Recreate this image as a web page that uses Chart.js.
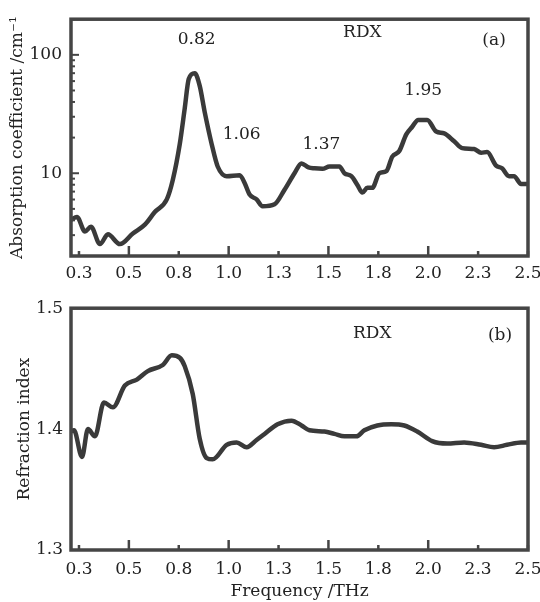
<!DOCTYPE html>
<html>
<head>
<meta charset="utf-8">
<script src="https://cdn.jsdelivr.net/npm/chart.js@4.4.0/dist/chart.umd.min.js"></script>
<style>
  body { margin: 0; background: #fff; }
  .box { position: absolute; left: 0; width: 540px; }
  #top { top: 0; height: 290px; }
  #bottom { top: 290px; height: 312px; }
</style>
</head>
<body>
<div class="box" id="top"><canvas id="absChart" width="540" height="290"></canvas></div>
<div class="box" id="bottom"><canvas id="refChart" width="540" height="312"></canvas></div>
<script>
// frequency axis (THz), shared by both panels
const xTickValues = [0.25, 0.5, 0.75, 1.0, 1.25, 1.5, 1.75, 2.0, 2.25, 2.5];
const xTickLabels = ["0.3", "0.5", "0.8", "1.0", "1.3", "1.5", "1.8", "2.0", "2.3", "2.5"];
const xMajorTicks = [0.5, 1.0, 1.5, 2.0];

// (a) absorption coefficient, cm^-1 (log axis)
const absFreq = [0.21, 0.24, 0.28, 0.31, 0.355, 0.395, 0.455, 0.52, 0.58, 0.63, 0.69, 0.72, 0.755, 0.78, 0.80,
  0.83, 0.855, 0.88, 0.915, 0.945, 0.99,
  1.055, 1.08, 1.105, 1.14, 1.17, 1.23, 1.28, 1.33,
  1.365, 1.40, 1.43, 1.47, 1.505, 1.555, 1.58, 1.615, 1.645, 1.67, 1.695, 1.72, 1.755, 1.79, 1.82, 1.855, 1.89, 1.92, 1.95, 1.995,
  2.04, 2.08, 2.13, 2.17, 2.23, 2.265, 2.295, 2.34, 2.37, 2.405, 2.43, 2.465, 2.5];
const absValues = [4.05, 4.27, 3.22, 3.54, 2.52, 3.05, 2.52, 3.10, 3.68, 4.70, 6.01, 8.77, 17.6, 35.4, 62.4,
  69.8, 54.7, 32.8, 17.6, 11.4, 9.45,
  9.63, 8.28, 6.61, 6.01, 5.26, 5.47, 7.26, 10.0,
  12.1, 11.2, 11.0, 10.9, 11.4, 11.4, 10.0, 9.45, 7.97, 6.86, 7.54, 7.54, 10.0, 10.4, 13.8, 15.4, 21.3, 24.7, 28.2, 28.2,
  22.5, 21.7, 18.6, 16.3, 16.0, 14.9, 15.1, 11.6, 11.0, 9.45, 9.45, 8.13, 8.13];
const absTickValues = [2, 3, 4, 5, 6, 7, 8, 9, 10, 20, 30, 40, 50, 60, 70, 80, 90, 100, 200];
const absTickLabels = { 10: "10", 100: "100" };

// (b) refraction index
const refFreq = [0.21, 0.225, 0.265, 0.295, 0.33, 0.375, 0.42, 0.48, 0.54, 0.595,
  0.67, 0.715, 0.755, 0.78, 0.82, 0.855, 0.89, 0.92, 0.99, 1.04,
  1.09, 1.14, 1.18, 1.245, 1.315, 1.365, 1.405, 1.48, 1.53, 1.58,
  1.64, 1.68, 1.745, 1.815, 1.88, 1.945, 2.02, 2.095, 2.18, 2.265,
  2.33, 2.395, 2.465, 2.5];
const refValues = [1.398, 1.399, 1.377, 1.400, 1.394, 1.422, 1.418, 1.436, 1.441, 1.448,
  1.453, 1.461, 1.459, 1.452, 1.429, 1.392, 1.376, 1.375, 1.387, 1.389,
  1.385, 1.391, 1.396, 1.404, 1.407, 1.403, 1.399, 1.398, 1.396, 1.394,
  1.394, 1.399, 1.403, 1.404, 1.403, 1.398, 1.390, 1.388, 1.389, 1.387,
  1.385, 1.387, 1.389, 1.389];
const refTickValues = [1.3, 1.4, 1.5];

Chart.defaults.font.family = "'DejaVu Serif', 'Liberation Serif', serif";
Chart.defaults.font.size = 17;
Chart.defaults.color = "#222";

const lineColor = "#3a3a3a";
const frameColor = "#454545";

// box round the plot, inward tick marks and the text notes
const framePlugin = {
  id: "frame",
  afterDraw(chart, args, opts) {
    const { ctx, chartArea: a, scales } = chart;
    ctx.save();
    ctx.strokeStyle = frameColor;
    ctx.lineWidth = 2.5;
    scales.x.ticks.forEach((t) => {
      const px = scales.x.getPixelForValue(t.value);
      const len = xMajorTicks.includes(t.value) ? 10 : 5;
      ctx.beginPath();
      ctx.moveTo(px, a.bottom);
      ctx.lineTo(px, a.bottom - len);
      ctx.stroke();
    });
    if (opts.logTicks) {
      ctx.lineWidth = 2;
      scales.y.ticks.forEach((t) => {
        const py = scales.y.getPixelForValue(t.value);
        const len = absTickLabels[t.value] ? 8 : 4;
        ctx.beginPath();
        ctx.moveTo(a.left, py);
        ctx.lineTo(a.left + len, py);
        ctx.stroke();
      });
    }
    ctx.lineWidth = 3.5;
    ctx.strokeRect(a.left, a.top, a.right - a.left, a.bottom - a.top);

    ctx.fillStyle = "#222";
    ctx.font = "17px 'DejaVu Serif', serif";
    ctx.textAlign = "center";
    ctx.textBaseline = "middle";
    (opts.notes || []).forEach((n) => {
      ctx.fillText(n.text, scales.x.getPixelForValue(n.x), scales.y.getPixelForValue(n.y));
    });
    ctx.restore();
  },
};

function xScale(labelPad, title) {
  return {
    type: "linear",
    min: 0.21,
    max: 2.5,
    grid: { display: false, drawTicks: false },
    border: { display: false },
    afterBuildTicks: (s) => { s.ticks = xTickValues.map((v) => ({ value: v })); },
    afterFit: (s) => {
      s.height = title ? 52 : 34;
      s.paddingLeft = 0;
      s.paddingRight = 0;
    },
    ticks: {
      autoSkip: false,
      maxRotation: 0,
      padding: labelPad,
      callback: (v) => xTickLabels[xTickValues.indexOf(v)],
    },
    title: title
      ? { display: true, text: title, padding: { top: 0, bottom: 0 } }
      : { display: false },
  };
}

function lineSet(xs, ys) {
  return {
    data: xs.map((x, i) => ({ x: x, y: ys[i] })),
    borderColor: lineColor,
    borderWidth: 4.5,
    pointRadius: 0,
    cubicInterpolationMode: "monotone",
    fill: false,
  };
}

new Chart(document.getElementById("absChart"), {
  type: "line",
  data: { datasets: [lineSet(absFreq, absValues)] },
  options: {
    responsive: false,
    animation: false,
    layout: { padding: { left: 0, right: 12, top: 12, bottom: 0 } },
    plugins: {
      legend: { display: false },
      tooltip: { enabled: false },
      frame: {
        logTicks: true,
        notes: [
          { text: "RDX", x: 1.67, y: 154 },
          { text: "(a)", x: 2.33, y: 133 },
          { text: "0.82", x: 0.84, y: 135 },
          { text: "1.06", x: 1.065, y: 21.3 },
          { text: "1.37", x: 1.465, y: 17.6 },
          { text: "1.95", x: 1.975, y: 49.8 },
        ],
      },
    },
    scales: {
      x: xScale(7),
      y: {
        type: "logarithmic",
        min: 2,
        max: 200,
        grid: { display: false, drawTicks: false },
        border: { display: false },
        afterBuildTicks: (s) => { s.ticks = absTickValues.map((v) => ({ value: v })); },
        afterFit: (s) => { s.width = 71; },
        ticks: {
          autoSkip: false,
          padding: 9,
          callback: (v) => absTickLabels[v] || "",
        },
        title: {
          display: true,
          text: "Absorption coefficient /cm⁻¹",
          padding: { top: 7, bottom: 0 },
        },
      },
    },
  },
  plugins: [framePlugin],
});

new Chart(document.getElementById("refChart"), {
  type: "line",
  data: { datasets: [lineSet(refFreq, refValues)] },
  options: {
    responsive: false,
    animation: false,
    layout: { padding: { left: 0, right: 12, top: 14, bottom: 0 } },
    plugins: {
      legend: { display: false },
      tooltip: { enabled: false },
      frame: {
        notes: [
          { text: "RDX", x: 1.72, y: 1.479 },
          { text: "(b)", x: 2.36, y: 1.477 },
        ],
      },
    },
    scales: {
      x: xScale(9, "Frequency /THz"),
      y: {
        type: "linear",
        min: 1.3,
        max: 1.5,
        grid: { display: false, drawTicks: false },
        border: { display: false },
        afterBuildTicks: (s) => { s.ticks = refTickValues.map((v) => ({ value: v })); },
        afterFit: (s) => { s.width = 71; },
        ticks: {
          autoSkip: false,
          padding: 8,
          callback: (v) => v.toFixed(1),
        },
        title: {
          display: true,
          text: "Refraction index",
          padding: { top: 14, bottom: 0 },
        },
      },
    },
  },
  plugins: [framePlugin],
});
</script>
</body>
</html>
